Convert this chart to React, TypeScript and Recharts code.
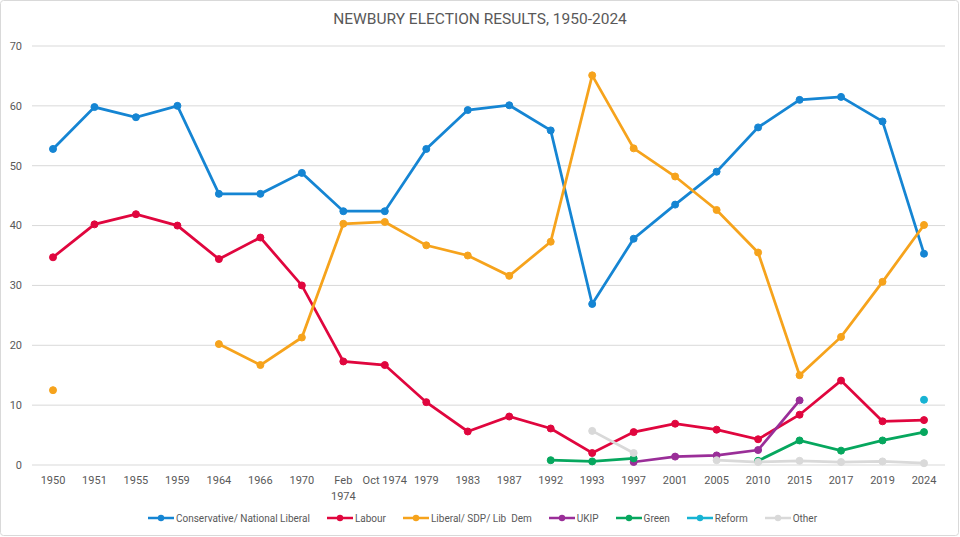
import React from 'react';
import { LineChart, Line, XAxis, YAxis, CartesianGrid, Legend } from 'recharts';

const years = ['1950','1951','1955','1959','1964','1966','1970','Feb 1974','Oct 1974','1979','1983','1987','1992','1993','1997','2001','2005','2010','2015','2017','2019','2024'];

const conservative = [52.8,59.8,58.1,60.0,45.3,45.3,48.8,42.4,42.4,52.8,59.3,60.1,55.9,26.9,37.8,43.5,49.0,56.4,61.0,61.5,57.4,35.3];
const labour = [34.7,40.2,41.9,40.0,34.4,38.0,30.0,17.3,16.7,10.5,5.6,8.1,6.1,2.0,5.5,6.9,5.9,4.3,8.4,14.1,7.3,7.5];
const libDem: (number|null)[] = [12.5,null,null,null,20.2,16.7,21.3,40.3,40.6,36.7,35.0,31.6,37.3,65.1,52.9,48.2,42.6,35.5,15.0,21.4,30.6,40.1];
const ukip: (number|null)[] = [null,null,null,null,null,null,null,null,null,null,null,null,null,null,0.5,1.4,1.6,2.5,10.8,null,null,null];
const green: (number|null)[] = [null,null,null,null,null,null,null,null,null,null,null,null,0.8,0.6,1.1,null,null,0.7,4.1,2.4,4.1,5.5];
const reform: (number|null)[] = [null,null,null,null,null,null,null,null,null,null,null,null,null,null,null,null,null,null,null,null,null,10.9];
const other: (number|null)[] = [null,null,null,null,null,null,null,null,null,null,null,null,null,5.7,2.0,null,0.8,0.5,0.7,0.5,0.6,0.3];

const yTicks = [0,10,20,30,40,50,60,70];

const seriesList = [
  { key: 'con', name: 'Conservative/ National Liberal', color: '#1585D3', values: conservative },
  { key: 'lab', name: 'Labour', color: '#E0063E', values: labour },
  { key: 'lib', name: 'Liberal/ SDP/ Lib  Dem', color: '#F6A31C', values: libDem },
  { key: 'ukip', name: 'UKIP', color: '#9A2E98', values: ukip },
  { key: 'grn', name: 'Green', color: '#06A75E', values: green },
  { key: 'ref', name: 'Reform', color: '#17B3D3', values: reform },
  { key: 'oth', name: 'Other', color: '#D9D9D9', values: other },
];

const data = years.map((y, i) => {
  const row: Record<string, any> = { year: y };
  seriesList.forEach(s => { row[s.key] = s.values[i]; });
  return row;
});

const FONT = "Roboto, 'Liberation Sans', sans-serif";
const TXT = '#595959';

const XTick = (props: any) => {
  const { x, y, payload } = props;
  const label: string = payload.value;
  const lines = label === 'Feb 1974' ? label.split(' ') : [label];
  return (
    <text x={x} y={y} textAnchor="middle" fill={TXT} fontSize={11} fontFamily={FONT}>
      {lines.map((l, i) => (
        <tspan key={i} x={x} dy={i === 0 ? 11 : 16}>{l}</tspan>
      ))}
    </text>
  );
};

const LegendContent = () => (
  <div style={{ display: 'flex', justifyContent: 'center', alignItems: 'center', height: 20, paddingLeft: 20, fontFamily: FONT, fontSize: 10, color: TXT, whiteSpace: 'pre' }}>
    {seriesList.map((s, i) => (
      <div key={s.key} style={{ display: 'flex', alignItems: 'center', marginLeft: i === 0 ? 0 : 17 }}>
        <svg width={26} height={10} style={{ marginRight: 2 }}>
          <line x1={0} y1={5} x2={26} y2={5} stroke={s.color} strokeWidth={2.5} />
          <circle cx={13} cy={5} r={3.2} fill={s.color} />
        </svg>
        <span>{s.name}</span>
      </div>
    ))}
  </div>
);

export default function App() {
  return (
    <div style={{ position: 'absolute', left: 0, top: 0, width: 960, height: 537, background: '#fff' }}>
      <svg width={960} height={537} style={{ position: 'absolute', left: 0, top: 0 }}>
        <rect x={0.5} y={0.5} width={958} height={535} rx={3} fill="#fff" stroke="#D9D9D9" />
      </svg>
      <div style={{ position: 'absolute', left: 0, top: 10, width: 960, textAlign: 'center', fontFamily: FONT, fontSize: 15.5, color: TXT }}>
        NEWBURY ELECTION RESULTS, 1950-2024
      </div>
      <div style={{ position: 'absolute', left: 0, top: 0 }}>
        <LineChart width={960} height={537} data={data} margin={{ top: 46, right: 15, left: 0, bottom: 9 }}>
          <CartesianGrid vertical={false} stroke="#D9D9D9" />
          <XAxis dataKey="year" axisLine={false} tickLine={false} interval={0} height={43} tick={<XTick />} padding={{ left: 21, right: 21 }} />
          <YAxis domain={[0, 70]} ticks={yTicks} axisLine={false} tickLine={false} width={32} tick={{ fill: TXT, fontSize: 11, fontFamily: FONT }} tickMargin={4} />
          <Legend verticalAlign="bottom" height={20} content={<LegendContent />} />
          {seriesList.map(s => (
            <Line key={s.key} dataKey={s.key} name={s.name} stroke={s.color} strokeWidth={2.75}
              dot={{ r: 3.5, fill: s.color, stroke: s.color, strokeWidth: 1 }} activeDot={false}
              isAnimationActive={false} connectNulls={false} />
          ))}
        </LineChart>
      </div>
    </div>
  );
}
